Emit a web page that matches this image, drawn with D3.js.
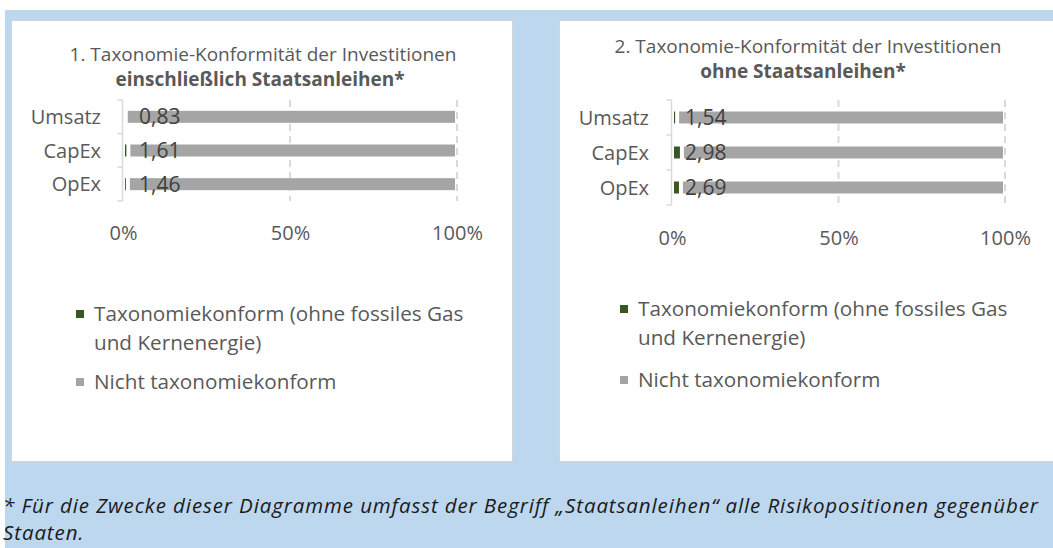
<!DOCTYPE html>
<html>
<head>
<meta http-equiv="Content-Type" content="text/html; charset=utf-8" />
<script src="https://cdn.jsdelivr.net/npm/d3@7"></script>
<title>Taxonomie-Konformität</title>
<style>
  body { margin: 0; background: #fff; }
  text { font-family: "Open Sans", sans-serif; }
</style>
</head>
<body>
<svg width="1053" height="548" id="mainsvg"></svg>
<script>
  // data
  const categories = ['Umsatz', 'CapEx', 'OpEx'];
  const konformInkl = [0.83, 1.61, 1.46];   // einschließlich Staatsanleihen
  const konformOhne = [1.54, 2.98, 2.69];   // ohne Staatsanleihen
  const xTicks = [0, 50, 100];
  const seriesNames = ['Taxonomiekonform (ohne fossiles Gas', 'und Kernenergie)', 'Nicht taxonomiekonform'];
  const titles1 = ['1. Taxonomie-Konformität der Investitionen', 'einschließlich Staatsanleihen*'];
  const titles2 = ['2. Taxonomie-Konformität der Investitionen', 'ohne Staatsanleihen*'];
  const footnote = ['* Für die Zwecke dieser Diagramme umfasst der Begriff „Staatsanleihen“ alle Risikopositionen gegenüber',
                    'Staaten.'];

  const green = '#385723', grey = '#a5a5a5', txt = '#595959';
  const de = d3.formatLocale({decimal: ',', thousands: '.', grouping: [3], currency: ['', '€']});
  const fmt = de.format('.2f');

  let svg = d3.select('#mainsvg');

  // background + panels
  svg.append('rect').attr('x', 5).attr('y', 10).attr('width', 1048).attr('height', 538).attr('fill', '#bdd7ee');
  svg.append('rect').attr('x', 11.5).attr('y', 20.5).attr('width', 501).attr('height', 441)
    .attr('fill', '#fff').attr('stroke', '#d4d4d4');
  svg.append('rect').attr('x', 559.5).attr('y', 20.5).attr('width', 500).attr('height', 441)
    .attr('fill', '#fff').attr('stroke', '#d4d4d4');

  function drawChart(cfg) {
    const g = svg.append('g');
    const x = d3.scaleLinear().domain([0, 100]).range(cfg.xRange);
    const y = d3.scaleBand().domain(categories).range(cfg.yRange).paddingInner(0).paddingOuter(0);
    const barH = 12;

    // title
    g.selectAll('.title').data(cfg.titles).join('text')
      .attr('x', (d, i) => cfg.titleX[i])
      .attr('y', (d, i) => cfg.titleY[i])
      .attr('text-anchor', 'middle')
      .attr('font-size', 19)
      .attr('font-weight', (d, i) => i === 1 ? 'bold' : 'normal')
      .attr('fill', txt)
      .text(d => d);

    // dashed grid
    g.selectAll('.grid').data(xTicks.slice(1)).join('line')
      .attr('x1', d => x(d)).attr('x2', d => x(d))
      .attr('y1', cfg.yRange[0]).attr('y2', cfg.yRange[1])
      .attr('stroke', '#d9d9d9').attr('stroke-width', 2).attr('stroke-dasharray', '7,5');

    // stacked bars (white 2px gap around each segment)
    const rows = categories.map((c, i) => ({cat: c, v: cfg.values[i]}));
    g.selectAll('.bar-g').data(rows).join('rect')
      .attr('x', d => x(0) + 2)
      .attr('y', d => y(d.cat) + y.bandwidth() / 2 - barH / 2)
      .attr('width', d => Math.max(0, x(d.v) - x(0) - 4))
      .attr('height', barH)
      .attr('fill', green);
    g.selectAll('.bar-n').data(rows).join('rect')
      .attr('x', d => x(d.v) + 2)
      .attr('y', d => y(d.cat) + y.bandwidth() / 2 - barH / 2)
      .attr('width', d => x(100) - x(d.v) - 4)
      .attr('height', barH)
      .attr('fill', grey);

    // value labels
    g.selectAll('.lab').data(rows).join('text')
      .attr('x', x(0) + cfg.labelOffset)
      .attr('y', d => y(d.cat) + y.bandwidth() / 2 + 7.5)
      .attr('font-size', 21)
      .attr('fill', '#404040')
      .text(d => fmt(d.v));

    // category axis: bracket line with outside ticks at band edges
    const x0 = Math.round(x(0)) - 0.5;
    g.append('line').attr('x1', x0).attr('x2', x0)
      .attr('y1', cfg.yRange[0]).attr('y2', cfg.yRange[1])
      .attr('stroke', '#d9d9d9').attr('stroke-width', 1.5);
    const edges = categories.map(c => y(c)).concat([cfg.yRange[1]]);
    g.selectAll('.ytick').data(edges).join('line')
      .attr('x1', x0 - 5).attr('x2', x0)
      .attr('y1', d => d).attr('y2', d => d)
      .attr('stroke', '#d9d9d9').attr('stroke-width', 1.5);
    g.selectAll('.cat').data(categories).join('text')
      .attr('x', x(0) - cfg.catGap)
      .attr('y', d => y(d) + y.bandwidth() / 2 + 7)
      .attr('text-anchor', 'end')
      .attr('font-size', 20)
      .attr('fill', txt)
      .text(d => d);

    // x tick labels
    const ax = g.append('g').attr('transform', `translate(0,${cfg.tickY})`)
      .call(d3.axisBottom(x).tickValues(xTicks).tickSize(0).tickPadding(0).tickFormat(d => d + '%'));
    ax.select('.domain').remove();
    ax.selectAll('text').attr('font-size', 20).attr('fill', txt)
      .attr('font-family', '"Open Sans", sans-serif').attr('dy', 0);

    // legend
    const leg = g.append('g');
    leg.append('rect').attr('x', cfg.legX).attr('y', cfg.legY[0] - 4).attr('width', 8).attr('height', 8).attr('fill', green);
    leg.append('rect').attr('x', cfg.legX).attr('y', cfg.legY[2] - 4).attr('width', 8).attr('height', 8).attr('fill', grey);
    leg.selectAll('text').data(seriesNames).join('text')
      .attr('x', cfg.legX + 18)
      .attr('y', (d, i) => cfg.legY[i] + 7)
      .attr('font-size', 20.7)
      .attr('fill', txt)
      .text(d => d);
  }

  drawChart({
    titles: titles1, titleX: [263, 260], titleY: [61, 86],
    values: konformInkl, xRange: [123, 457], yRange: [100, 201],
    labelOffset: 16, catGap: 22, tickY: 240,
    legX: 76, legY: [314, 343, 382]
  });
  drawChart({
    titles: titles2, titleX: [808, 803], titleY: [53, 78],
    values: konformOhne, xRange: [672, 1005], yRange: [100, 205],
    labelOffset: 13, catGap: 23, tickY: 245,
    legX: 620, legY: [309, 338, 380]
  });

  // footnote
  svg.selectAll('.foot').data(footnote).join('text')
    .attr('x', 3)
    .attr('y', (d, i) => 513 + i * 27)
    .attr('font-size', 20.5)
    .attr('letter-spacing', 0.9)
    .attr('font-style', 'italic')
    .attr('fill', '#1a1a1a')
    .text(d => d);
</script>
</body>
</html>
